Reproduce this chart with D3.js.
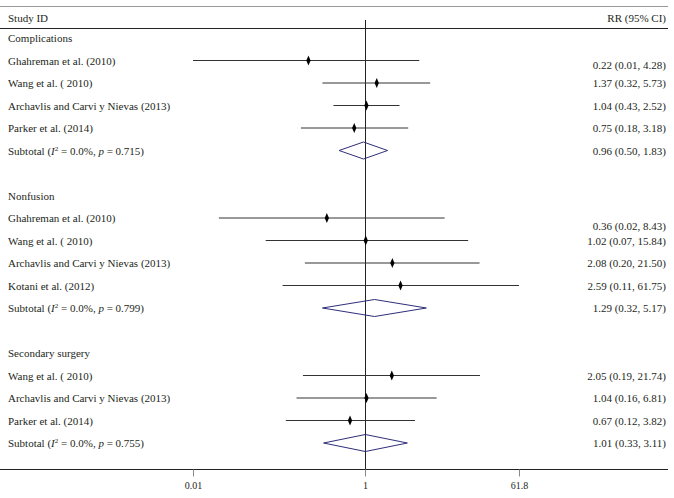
<!DOCTYPE html>
<html><head><meta charset="utf-8">
<script src="https://cdn.jsdelivr.net/npm/d3@7"></script>
<style>
body{margin:0;background:#fff}
text{font-family:"Liberation Serif","Times New Roman",serif;fill:#231f20}
</style></head><body>
<svg id="c" width="674" height="498"></svg>
<script>
const groups = ["Complications", "Nonfusion", "Secondary surgery"];
const studies = [
  ["Ghahreman et al. (2010)", "Wang et al. ( 2010)", "Archavlis and Carvi y Nievas (2013)", "Parker et al. (2014)"],
  ["Ghahreman et al. (2010)", "Wang et al. ( 2010)", "Archavlis and Carvi y Nievas (2013)", "Kotani et al. (2012)"],
  ["Wang et al. ( 2010)", "Archavlis and Carvi y Nievas (2013)", "Parker et al. (2014)"]
];
const rr = [[0.22, 1.37, 1.04, 0.75], [0.36, 1.02, 2.08, 2.59], [2.05, 1.04, 0.67]];
const lo = [[0.01, 0.32, 0.43, 0.18], [0.02, 0.07, 0.20, 0.11], [0.19, 0.16, 0.12]];
const hi = [[4.28, 5.73, 2.52, 3.18], [8.43, 15.84, 21.50, 61.75], [21.74, 6.81, 3.82]];
const subRR = [0.96, 1.29, 1.01];
const subLo = [0.50, 0.32, 0.33];
const subHi = [1.83, 5.17, 3.11];
const subI2 = ["0.0%", "0.0%", "0.0%"];
const subP = ["0.715", "0.799", "0.755"];
const tickValues = [0.01, 1, 61.8];
const tickLabels = ["0.01", "1", "61.8"];

const svg = d3.select("#c");
const x = d3.scaleLog().domain([0.01, 61.8]).range([193, 519]);
const y = d3.scaleLinear().domain([0, 18]).range([38, 443]);
const f2 = d3.format(".2f");
const lab = (r, l, h) => `${f2(r)} (${f2(l)}, ${f2(h)})`;

// Build row list
const rows = [];
let idx = 0;
groups.forEach((g, gi) => {
  rows.push({type: "head", i: idx++, label: g});
  studies[gi].forEach((s, si) => {
    rows.push({type: "study", i: idx++, label: s, rr: rr[gi][si], lo: lo[gi][si], hi: hi[gi][si], first: si === 0, gi});
  });
  rows.push({type: "sub", i: idx++, gi, rr: subRR[gi], lo: subLo[gi], hi: subHi[gi]});
  idx++; // blank row
});

// frame lines
svg.append("line").attr("x1", 0).attr("x2", 668).attr("y1", 6.5).attr("y2", 6.5).attr("stroke", "#999");
svg.append("line").attr("x1", 0).attr("x2", 668).attr("y1", 28.5).attr("y2", 28.5).attr("stroke", "#222");
svg.append("line").attr("x1", 0).attr("x2", 668).attr("y1", 469.5).attr("y2", 469.5).attr("stroke", "#222");

svg.append("text").attr("x", 8).attr("y", 22).attr("font-size", 11).text("Study ID");
svg.append("text").attr("x", 666).attr("y", 22).attr("font-size", 11).attr("text-anchor", "end").text("RR (95% CI)");

// null line
svg.append("line").attr("x1", Math.round(x(1)) + 0.5).attr("x2", Math.round(x(1)) + 0.5)
  .attr("y1", 20).attr("y2", 470).attr("stroke", "#222");

// axis
const axis = d3.axisBottom(x).tickValues(tickValues).tickFormat((d, i) => tickLabels[i]).tickSize(7).tickPadding(5);
const ag = svg.append("g").attr("transform", "translate(0,469.5)").call(axis);
ag.select(".domain").remove();
ag.selectAll(".tick line").attr("stroke", "#888");
ag.selectAll(".tick text").attr("font-family", "Liberation Serif, serif").attr("font-size", 10).attr("fill", "#231f20");

// labels left
svg.selectAll("text.left").data(rows.filter(r => r.type !== "sub")).join("text")
  .attr("class", "left").attr("x", 8).attr("y", d => y(d.i) + 4).attr("font-size", 11).text(d => d.label);

// subtotal labels with italic/superscript
rows.filter(r => r.type === "sub").forEach(r => {
  const t = svg.append("text").attr("x", 8).attr("y", y(r.i) + 4).attr("font-size", 11);
  t.append("tspan").text("Subtotal (");
  t.append("tspan").attr("font-style", "italic").text("I");
  t.append("tspan").attr("font-size", 7).attr("dy", -4).text("2");
  t.append("tspan").attr("dy", 4).text(` = ${subI2[r.gi]}, `);
  t.append("tspan").attr("font-style", "italic").text("p");
  t.append("tspan").text(` = ${subP[r.gi]})`);
});

// CI lines
const st = rows.filter(r => r.type === "study");
svg.selectAll("line.ci").data(st).join("line").attr("class", "ci")
  .attr("x1", d => x(d.lo)).attr("x2", d => x(d.hi))
  .attr("y1", d => y(d.i)).attr("y2", d => y(d.i))
  .attr("stroke", "#333").attr("stroke-width", 1);
svg.selectAll("path.pt").data(st).join("path").attr("class", "pt")
  .attr("d", d3.symbol().type(d3.symbolDiamond).size(22))
  .attr("transform", d => `translate(${x(d.rr)},${y(d.i)}) scale(0.85,1.15)`)
  .attr("fill", "#000");

// diamonds
const sb = rows.filter(r => r.type === "sub");
svg.selectAll("path.dia").data(sb).join("path").attr("class", "dia")
  .attr("d", d => {
    const cy = y(d.i);
    return `M${x(d.lo)},${cy}L${x(d.rr)},${cy - 8.5}L${x(d.hi)},${cy}L${x(d.rr)},${cy + 8.5}Z`;
  })
  .attr("fill", "none").attr("stroke", "#2e2e7a").attr("stroke-width", 1);

// right labels
const rightOff = [4, 8, 0];
svg.selectAll("text.right").data(rows.filter(r => r.type !== "head")).join("text")
  .attr("class", "right").attr("x", 666).attr("text-anchor", "end").attr("font-size", 11)
  .attr("y", d => y(d.i) + 4 + (d.type === "study" && d.first ? rightOff[d.gi] : 0))
  .text(d => lab(d.rr, d.lo, d.hi));
</script>
</body></html>
